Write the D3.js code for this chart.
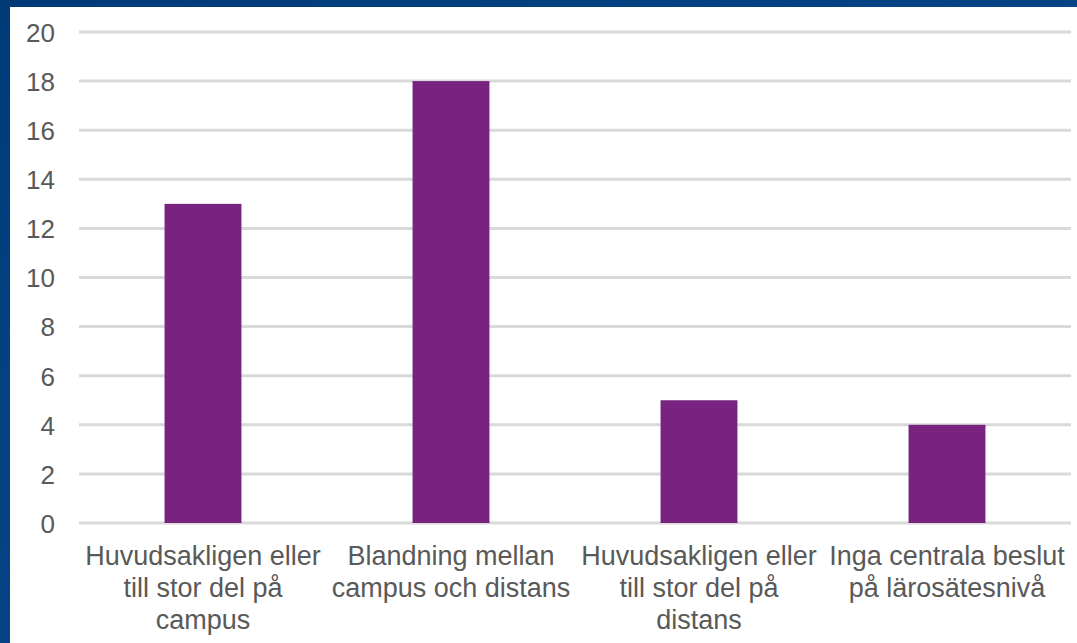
<!DOCTYPE html>
<html><head><meta charset="utf-8">
<script src="https://cdn.jsdelivr.net/npm/d3@7"></script>
<style>
html,body{margin:0;padding:0;background:#003f7c;}
svg{display:block;}
text{font-family:"Liberation Sans", Arial, sans-serif;}
</style></head>
<body>
<script>
const categories = [
  ["Huvudsakligen eller", "till stor del på", "campus"],
  ["Blandning mellan", "campus och distans"],
  ["Huvudsakligen eller", "till stor del på", "distans"],
  ["Inga centrala beslut", "på lärosätesnivå"]
];
const values = [13, 18, 5, 4];
const yTicks = [0, 2, 4, 6, 8, 10, 12, 14, 16, 18, 20];

const W = 1077, H = 643;
const svg = d3.select("body").append("svg").attr("width", W).attr("height", H);
const defs = svg.append("defs");
const g0 = defs.append("linearGradient").attr("id","bg").attr("x1","0").attr("x2","1").attr("y1","0").attr("y2","1");
g0.append("stop").attr("offset","0").attr("stop-color","#003b78");
g0.append("stop").attr("offset","1").attr("stop-color","#0a4f92");
svg.append("rect").attr("width",W).attr("height",H).attr("fill","url(#bg)");
svg.append("rect").attr("x",10).attr("y",7).attr("width",W-10).attr("height",H-7).attr("fill","#fff");

const x = d3.scaleBand().domain(d3.range(categories.length)).range([79, 1071]).paddingInner(0.69).paddingOuter(0.345);
const y = d3.scaleLinear().domain([0, 20]).range([523, 32]);

const grid = svg.append("g");
grid.selectAll("line").data(yTicks).join("line")
  .attr("x1", 79).attr("x2", 1071)
  .attr("y1", d => y(d)).attr("y2", d => y(d))
  .attr("stroke", "#d9d9d9").attr("stroke-width", 3);

const yAxis = d3.axisLeft(y).tickValues(yTicks).tickSize(0).tickPadding(0);
const ya = svg.append("g").attr("transform","translate(55,0)").call(yAxis);
ya.select(".domain").remove();
ya.attr("font-family", null).attr("font-size", null);
ya.selectAll("text").style("font-size","26px").style("fill","#595959").attr("dy","0.36em");

svg.append("g").selectAll("rect").data(values).join("rect")
  .attr("x", (d,i) => x(i)).attr("width", x.bandwidth())
  .attr("y", d => y(d)).attr("height", d => y(0) - y(d))
  .attr("fill", "#77237f");

const xb = d3.scaleBand().domain(d3.range(categories.length)).range([79, 1071]);
const labels = svg.append("g");
categories.forEach((lines, i) => {
  const cx = xb(i) + xb.bandwidth()/2;
  const t = labels.append("text")
    .attr("x", cx)
    .attr("text-anchor","middle")
    .style("font-size","27px").style("fill","#595959");
  lines.forEach((l, k) => t.append("tspan").attr("x", cx).attr("y", 565 + k*32).text(l));
});
</script>
</body></html>
